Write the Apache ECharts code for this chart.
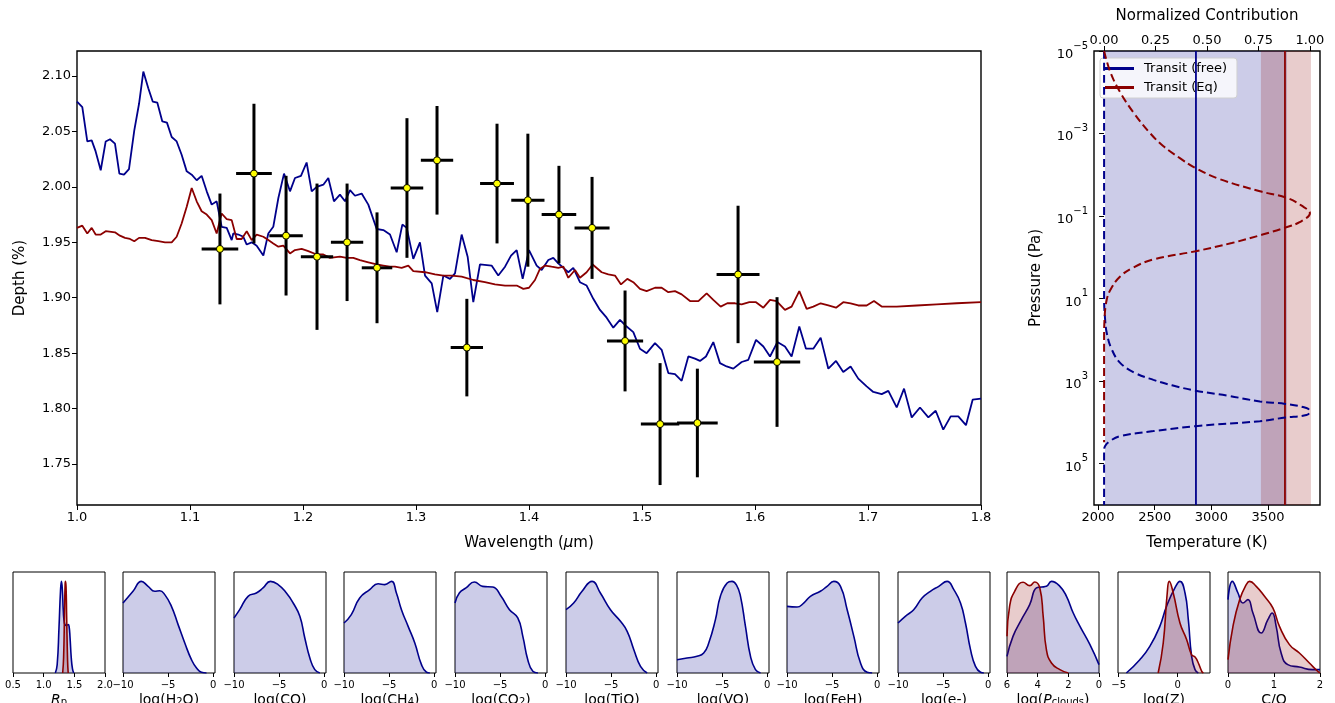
<!DOCTYPE html>
<html><head><meta charset="utf-8">
<script src="https://cdn.jsdelivr.net/npm/echarts@6/dist/echarts.min.js"></script>
<style>html,body{margin:0;padding:0;background:#fff}#c{width:1335px;height:703px}</style>
</head><body><div id="c"></div>
<script>
// ---------------- DATA ----------------
// Model transmission spectra [wavelength (um), depth (%)]
const specFree = [[1.000,2.077],[1.0047,2.072],[1.0091,2.041],[1.013,2.042],[1.0165,2.032],[1.021,2.015],[1.0254,2.041],[1.0292,2.043],[1.0336,2.039],[1.0375,2.012],[1.0416,2.011],[1.046,2.016],[1.0507,2.051],[1.0549,2.075],[1.0587,2.104],[1.0631,2.089],[1.067,2.077],[1.0711,2.076],[1.0755,2.059],[1.0796,2.058],[1.0838,2.045],[1.0882,2.041],[1.0926,2.029],[1.0971,2.014],[1.1015,2.011],[1.1059,2.006],[1.1103,2.010],[1.1148,1.996],[1.1192,1.984],[1.1236,1.987],[1.128,1.964],[1.1325,1.963],[1.1369,1.952],[1.1383,1.958],[1.1428,1.957],[1.1472,1.955],[1.1502,1.948],[1.1546,1.950],[1.159,1.947],[1.1649,1.938],[1.1693,1.958],[1.1737,1.964],[1.1782,1.990],[1.1832,2.012],[1.1885,1.996],[1.1929,2.008],[1.1982,2.010],[1.2032,2.022],[1.2077,1.996],[1.2121,2.000],[1.218,2.002],[1.2224,2.008],[1.2274,1.987],[1.2327,1.993],[1.2372,1.987],[1.2416,1.997],[1.246,1.992],[1.2519,1.994],[1.2578,1.984],[1.2652,1.962],[1.2711,1.961],[1.277,1.957],[1.2829,1.941],[1.2879,1.966],[1.2918,1.963],[1.2976,1.935],[1.3035,1.950],[1.308,1.920],[1.3139,1.913],[1.3188,1.887],[1.3242,1.920],[1.3301,1.917],[1.3345,1.922],[1.3404,1.957],[1.3457,1.937],[1.3507,1.896],[1.3566,1.930],[1.3669,1.929],[1.3728,1.920],[1.3788,1.928],[1.3841,1.938],[1.3891,1.943],[1.3944,1.917],[1.400,1.943],[1.4068,1.929],[1.4112,1.925],[1.4171,1.934],[1.4215,1.936],[1.4259,1.931],[1.4304,1.927],[1.4348,1.923],[1.4392,1.927],[1.4451,1.914],[1.451,1.911],[1.4569,1.899],[1.4628,1.889],[1.4687,1.882],[1.4746,1.873],[1.4805,1.880],[1.4864,1.874],[1.4923,1.869],[1.4982,1.854],[1.5041,1.850],[1.5115,1.859],[1.5174,1.853],[1.5233,1.832],[1.5292,1.831],[1.5351,1.825],[1.541,1.847],[1.5469,1.845],[1.5513,1.843],[1.5566,1.847],[1.5631,1.860],[1.569,1.841],[1.5749,1.838],[1.5808,1.836],[1.5882,1.842],[1.5941,1.844],[1.6009,1.862],[1.6074,1.856],[1.6133,1.847],[1.6198,1.860],[1.6265,1.856],[1.6324,1.847],[1.6392,1.874],[1.6451,1.854],[1.6516,1.854],[1.6581,1.864],[1.6649,1.836],[1.6717,1.843],[1.6781,1.833],[1.6846,1.838],[1.6914,1.827],[1.6988,1.820],[1.7047,1.815],[1.7121,1.813],[1.718,1.816],[1.7254,1.801],[1.7319,1.818],[1.7387,1.792],[1.746,1.801],[1.7534,1.792],[1.7599,1.798],[1.7666,1.781],[1.7732,1.793],[1.7799,1.793],[1.7867,1.785],[1.7926,1.808],[1.800,1.809]];
const specEq = [[1.000,1.963],[1.0047,1.965],[1.0091,1.958],[1.013,1.963],[1.0165,1.957],[1.021,1.957],[1.0254,1.960],[1.0336,1.959],[1.038,1.956],[1.0425,1.954],[1.0469,1.953],[1.0507,1.951],[1.0549,1.954],[1.0602,1.954],[1.0661,1.952],[1.072,1.951],[1.0779,1.950],[1.0838,1.950],[1.0882,1.955],[1.0926,1.967],[1.0971,1.982],[1.1015,1.999],[1.1059,1.987],[1.1103,1.978],[1.1148,1.975],[1.1192,1.970],[1.1236,1.958],[1.128,1.976],[1.1325,1.971],[1.1369,1.970],[1.1413,1.953],[1.1457,1.953],[1.1502,1.960],[1.1546,1.952],[1.159,1.957],[1.1649,1.955],[1.1693,1.952],[1.1737,1.949],[1.1782,1.946],[1.1826,1.947],[1.1885,1.940],[1.1929,1.943],[1.1988,1.944],[1.2047,1.942],[1.2121,1.939],[1.218,1.939],[1.2239,1.936],[1.2327,1.937],[1.2386,1.936],[1.2445,1.936],[1.2504,1.934],[1.2578,1.932],[1.2652,1.930],[1.2711,1.929],[1.277,1.928],[1.2814,1.928],[1.2873,1.927],[1.2932,1.929],[1.2976,1.924],[1.308,1.923],[1.3168,1.921],[1.3242,1.920],[1.3315,1.920],[1.3404,1.919],[1.3507,1.916],[1.361,1.914],[1.3699,1.912],[1.3788,1.911],[1.3891,1.911],[1.395,1.908],[1.400,1.909],[1.4053,1.916],[1.4097,1.926],[1.4142,1.929],[1.420,1.928],[1.4259,1.927],[1.4304,1.928],[1.4348,1.918],[1.4407,1.925],[1.4451,1.918],[1.451,1.923],[1.4563,1.930],[1.4643,1.923],[1.4702,1.921],[1.4761,1.920],[1.4814,1.912],[1.487,1.917],[1.4923,1.914],[1.4982,1.908],[1.5041,1.906],[1.5115,1.909],[1.5174,1.909],[1.5233,1.905],[1.5292,1.906],[1.5351,1.903],[1.5425,1.897],[1.5499,1.897],[1.5572,1.904],[1.5631,1.898],[1.5696,1.892],[1.5755,1.895],[1.5823,1.895],[1.5882,1.894],[1.595,1.896],[1.6009,1.896],[1.6074,1.891],[1.6133,1.898],[1.6191,1.897],[1.6265,1.889],[1.6324,1.892],[1.6392,1.906],[1.6457,1.890],[1.6516,1.892],[1.6581,1.895],[1.6649,1.893],[1.6717,1.891],[1.6781,1.896],[1.6846,1.895],[1.6914,1.893],[1.6988,1.893],[1.7053,1.897],[1.7121,1.892],[1.7254,1.892],[1.7431,1.893],[1.7608,1.894],[1.7785,1.895],[1.800,1.896]];

// Observed data
const obsWl      = [1.1265,1.1566,1.185,1.2124,1.239,1.2655,1.292,1.3186,1.345,1.3717,1.399,1.4265,1.4558,1.485,1.516,1.549,1.585,1.6195];
const obsWlErr   = [0.0162,0.0158,0.0148,0.0143,0.0143,0.0135,0.0144,0.0143,0.0143,0.015,0.0147,0.0153,0.0155,0.016,0.017,0.018,0.019,0.0205];
const obsDepth   = [1.944,2.012,1.956,1.937,1.950,1.927,1.999,2.024,1.855,2.003,1.988,1.975,1.963,1.861,1.786,1.787,1.921,1.842];
const obsDepthErr= [0.050,0.063,0.054,0.066,0.053,0.050,0.063,0.049,0.044,0.054,0.060,0.044,0.046,0.0455,0.055,0.049,0.062,0.0585];

// Tick labels
const depthTicks = [1.75,1.80,1.85,1.90,1.95,2.00,2.05,2.10];
const tempTicks = [2000,2500,3000,3500];
const contribTicks = [0,0.25,0.5,0.75,1.0];
const pressureTicks = [1e-5,1e-3,1e-1,1e1,1e3,1e5];

// Temperature retrieval (K): median and 1-sigma band
const tempFreeMedian = 2864, tempFreeBand = [2062, 3667];
const tempEqMedian = 3649,  tempEqBand = [3437, 3878];

// Normalized contribution functions: pressure (Pa) and contribution
const contribEqP = [1e-5,3.2e-5,1e-4,3.2e-4,1e-3,2e-3,4e-3,6.9e-3,1.26e-2,2.5e-2,3.6e-2,5.6e-2,8.5e-2,1.4e-1,1.9e-1,2.8e-1,4.5e-1,7.1e-1,1.12,1.78,2.9,5.6,10.5,32,100,3e4];
const contribEqC = [0,0.03,0.078,0.145,0.225,0.287,0.37,0.445,0.56,0.757,0.886,0.96,1.0,0.95,0.88,0.77,0.62,0.445,0.24,0.14,0.078,0.035,0.013,0.002,0,0];
const contribFreeP = [1e-5,10,32,68,160,360,630,930,1260,1700,2240,3100,3550,4470,5400,6600,7600,9300,12300,16200,21400,28200,37200,50000,1e6];
const contribFreeC = [0,0,0.005,0.013,0.035,0.078,0.15,0.24,0.33,0.445,0.6,0.757,0.88,0.983,1.0,0.983,0.88,0.757,0.445,0.24,0.078,0.029,0.005,0,0];

// Posterior KDEs [x, relative density]
const kde_Rp_free = [[1.19,0],[1.22,0.08],[1.25,0.45],[1.275,0.82],[1.29,0.907],[1.305,0.82],[1.32,0.62],[1.34,0.49],[1.37,0.47],[1.40,0.48],[1.415,0.46],[1.43,0.35],[1.45,0.15],[1.47,0.04],[1.49,0]];
const kde_Rp_eq = [[1.31,0],[1.325,0.15],[1.34,0.6],[1.35,0.88],[1.356,0.907],[1.365,0.85],[1.375,0.55],[1.39,0.12],[1.40,0]];
const kde_H2O = [[-10,0.693],[-8.89,0.809],[-7.96,0.907],[-7.22,0.858],[-6.48,0.809],[-5.93,0.815],[-5.37,0.776],[-4.63,0.66],[-3.89,0.479],[-3.15,0.297],[-2.41,0.132],[-1.85,0.05],[-1.3,0.007],[-0.74,0]];
const kde_CO = [[-10,0.545],[-9.37,0.627],[-8.44,0.759],[-7.52,0.792],[-6.78,0.842],[-5.96,0.907],[-5.11,0.875],[-4.19,0.792],[-3.44,0.693],[-2.7,0.561],[-2.15,0.347],[-1.59,0.149],[-1.04,0.033],[-0.48,0]];
const kde_CH4 = [[-10,0.495],[-9.19,0.578],[-8.26,0.743],[-7.15,0.825],[-6.22,0.884],[-5.48,0.875],[-4.74,0.907],[-4.19,0.792],[-3.63,0.627],[-2.89,0.462],[-2.15,0.297],[-1.41,0.083],[-0.85,0.007],[-0.48,0]];
const kde_CO2 = [[-10,0.693],[-9.52,0.792],[-8.78,0.842],[-7.85,0.901],[-6.93,0.858],[-5.81,0.851],[-4.89,0.759],[-3.96,0.627],[-3.04,0.545],[-2.48,0.363],[-1.93,0.132],[-1.37,0.017],[-0.8,0]];
const kde_TiO = [[-10,0.627],[-9.15,0.693],[-8.22,0.809],[-7.11,0.907],[-6.19,0.792],[-5.07,0.627],[-3.96,0.512],[-3.22,0.413],[-2.48,0.231],[-1.74,0.066],[-1.0,0]];
const kde_VO = [[-10,0.132],[-8.89,0.149],[-7.78,0.165],[-7.04,0.198],[-6.48,0.297],[-5.74,0.528],[-5.19,0.759],[-4.44,0.891],[-3.9,0.907],[-3.4,0.87],[-2.96,0.759],[-2.41,0.462],[-1.85,0.165],[-1.3,0.033],[-0.74,0]];
const kde_FeH = [[-10,0.66],[-8.89,0.653],[-8.15,0.693],[-7.41,0.759],[-6.3,0.809],[-5.56,0.858],[-4.81,0.907],[-4.07,0.858],[-3.33,0.627],[-2.59,0.363],[-1.85,0.099],[-1.11,0.007],[-0.56,0]];
const kde_e = [[-10,0.495],[-9.19,0.561],[-8.26,0.627],[-7.33,0.743],[-6.41,0.809],[-5.48,0.858],[-4.56,0.907],[-3.81,0.825],[-3.07,0.693],[-2.52,0.495],[-1.96,0.231],[-1.41,0.066],[-0.85,0.007],[-0.48,0]];
const kde_Pc_free = [[6,0.165],[5.61,0.363],[5.06,0.528],[4.52,0.677],[4.08,0.842],[3.75,0.851],[3.43,0.858],[3.1,0.907],[2.55,0.858],[2.12,0.759],[1.68,0.594],[1.24,0.462],[0.59,0.281],[0,0.083]];
const kde_Pc_eq = [[6,0.363],[5.83,0.66],[5.5,0.809],[4.95,0.898],[4.52,0.865],[4.19,0.901],[3.86,0.842],[3.64,0.561],[3.43,0.231],[3.1,0.099],[2.55,0.033],[2.0,0]];
const kde_Z_free = [[-4.35,0],[-3.21,0.132],[-2.36,0.264],[-1.51,0.462],[-0.94,0.66],[-0.23,0.842],[0.2,0.907],[0.63,0.792],[0.91,0.528],[1.19,0.165],[1.48,0.033],[1.76,0]];
const kde_Z_eq = [[-1.65,0],[-1.22,0.297],[-0.88,0.792],[-0.71,0.907],[-0.37,0.792],[0.2,0.495],[0.77,0.33],[1.19,0.18],[1.48,0.158],[1.76,0.099],[2.05,0.017],[2.19,0]];
const kde_CtoO_free = [[0,0.726],[0.094,0.907],[0.217,0.792],[0.325,0.693],[0.433,0.726],[0.542,0.594],[0.722,0.396],[0.866,0.528],[0.96,0.594],[1.047,0.462],[1.155,0.198],[1.3,0.083],[1.55,0.059],[1.84,0.033],[2.0,0.033]];
const kde_CtoO_eq = [[0,0.132],[0.108,0.462],[0.253,0.726],[0.397,0.875],[0.469,0.907],[0.614,0.858],[0.794,0.759],[0.975,0.644],[1.119,0.462],[1.336,0.281],[1.552,0.198],[1.769,0.099],[1.95,0.017],[2.0,0]];

// ---------------- CHART ----------------
const FONT = 'DejaVu Sans';
const BLUE = '#00008b', RED = '#8b0000';
const BLUE_FILL = 'rgba(0,0,139,0.2)', RED_FILL = 'rgba(139,0,0,0.2)';
const minus = s => String(s).replace('-', '\u2212');

const panels = [
  {title:'{i|R}{s|p}', min:0.5, max:2.0, ticks:[0.5,1.0,1.5,2.0], dec:1, free:kde_Rp_free, eq:kde_Rp_eq},
  {title:'log(H{s|2}O)', min:-10, max:0.2, ticks:[-10,-5,0], free:kde_H2O},
  {title:'log(CO)', min:-10, max:0.2, ticks:[-10,-5,0], free:kde_CO},
  {title:'log(CH{s|4})', min:-10, max:0.2, ticks:[-10,-5,0], free:kde_CH4},
  {title:'log(CO{s|2})', min:-10, max:0.2, ticks:[-10,-5,0], free:kde_CO2},
  {title:'log(TiO)', min:-10, max:0.2, ticks:[-10,-5,0], free:kde_TiO},
  {title:'log(VO)', min:-10, max:0.2, ticks:[-10,-5,0], free:kde_VO},
  {title:'log(FeH)', min:-10, max:0.2, ticks:[-10,-5,0], free:kde_FeH},
  {title:'log(e-)', min:-10, max:0.2, ticks:[-10,-5,0], free:kde_e},
  {title:'log({i|P}{s|clouds})', min:0, max:6, inverse:true, ticks:[0,2,4,6], free:kde_Pc_free, eq:kde_Pc_eq},
  {title:'log(Z)', min:-5.06, max:2.75, ticks:[-5,0], free:kde_Z_free, eq:kde_Z_eq},
  {title:'C/O', min:0, max:2, ticks:[0,1,2], free:kde_CtoO_free, eq:kde_CtoO_eq}
];
const panelLefts = [13,123,234,344,455,566,677,787,898,1007,1118,1228];

const grids = [
  {left:77, top:51, width:904, height:454, show:true, borderColor:'#000', borderWidth:1.4, backgroundColor:'transparent', outerBoundsMode:'none', containLabel:false},
  {left:1094, top:51, width:226, height:454, show:true, borderColor:'#000', borderWidth:1.4, backgroundColor:'transparent', outerBoundsMode:'none', containLabel:false}
];
const xAxes = [
  {gridIndex:0, type:'value', min:1.0, max:1.8, interval:0.1, splitLine:{show:false},
   axisLine:{show:false}, axisTick:{length:5, lineStyle:{color:'#000'}},
   axisLabel:{fontFamily:FONT, fontSize:13, color:'#000', margin:6, formatter:v=>v.toFixed(1)},
   name:'Wavelength ({i|\u03bc}m)', nameLocation:'middle', nameGap:31,
   nameTextStyle:{fontFamily:FONT, fontSize:15, color:'#000', rich:{i:{fontFamily:FONT, fontSize:15, fontStyle:'italic', color:'#000'}}}},
  {gridIndex:1, type:'value', min:1965, max:3958, position:'bottom', splitLine:{show:false},
   axisLine:{show:false}, axisTick:{length:5, lineStyle:{color:'#000'}, customValues:tempTicks},
   axisLabel:{fontFamily:FONT, fontSize:13, color:'#000', margin:6, customValues:tempTicks, formatter:v=>String(Math.round(v))},
   name:'Temperature (K)', nameLocation:'middle', nameGap:31,
   nameTextStyle:{fontFamily:FONT, fontSize:15, color:'#000'}},
  {gridIndex:1, type:'value', min:-0.049, max:1.049, position:'top', splitLine:{show:false},
   axisLine:{show:false}, axisTick:{length:5, lineStyle:{color:'#000'}, customValues:contribTicks},
   axisLabel:{fontFamily:FONT, fontSize:13, color:'#000', margin:4, customValues:contribTicks, formatter:v=>v.toFixed(2)},
   name:'Normalized Contribution', nameLocation:'middle', nameGap:27,
   nameTextStyle:{fontFamily:FONT, fontSize:15, color:'#000'}}
];
const yAxes = [
  {gridIndex:0, type:'value', min:1.713, max:2.1226, splitLine:{show:false},
   axisLine:{show:false}, axisTick:{length:5, lineStyle:{color:'#000'}, customValues:depthTicks},
   axisLabel:{fontFamily:FONT, fontSize:13, color:'#000', margin:6, customValues:depthTicks, formatter:v=>v.toFixed(2)},
   name:'Depth (%)', nameLocation:'middle', nameGap:49, nameRotate:90,
   nameTextStyle:{fontFamily:FONT, fontSize:15, color:'#000'}},
  {gridIndex:1, type:'log', min:1e-5, max:1e6, inverse:true, splitLine:{show:false},
   axisLine:{show:false}, axisTick:{length:5, lineStyle:{color:'#000'}, customValues:pressureTicks}, minorTick:{show:false},
   axisLabel:{margin:6, customValues:pressureTicks,
     formatter:v=>{const e=Math.round(Math.log10(v)); return '{b|10}{e|'+minus(e)+'}';},
     rich:{b:{fontFamily:FONT, fontSize:13, color:'#000', verticalAlign:'bottom', lineHeight:20},
           e:{fontFamily:FONT, fontSize:10, color:'#000', verticalAlign:'top', lineHeight:12}}},
   name:'Pressure (Pa)', nameLocation:'middle', nameGap:50, nameRotate:90,
   nameTextStyle:{fontFamily:FONT, fontSize:15, color:'#000'}}
];

const series = [
  {type:'line', name:'specFree', xAxisIndex:0, yAxisIndex:0, data:specFree, showSymbol:false, symbol:'none',
   lineStyle:{color:BLUE, width:1.8}, itemStyle:{color:BLUE}, z:2},
  {type:'line', name:'specEq', xAxisIndex:0, yAxisIndex:0, data:specEq, showSymbol:false, symbol:'none',
   lineStyle:{color:RED, width:1.8}, itemStyle:{color:RED}, z:3},
  {type:'custom', name:'errbars', xAxisIndex:0, yAxisIndex:0, z:5,
   data: obsWl.map((w,i)=>[w, obsDepth[i], obsWlErr[i], obsDepthErr[i]]),
   encode:{x:0, y:1},
   renderItem:(params, api)=>{
     const x=api.value(0), y=api.value(1), xe=api.value(2), ye=api.value(3);
     const l=api.coord([x-xe,y]), r=api.coord([x+xe,y]), t=api.coord([x,y+ye]), b=api.coord([x,y-ye]);
     const st={stroke:'#000', lineWidth:3};
     return {type:'group', children:[
       {type:'line', shape:{x1:l[0],y1:l[1],x2:r[0],y2:r[1]}, style:st},
       {type:'line', shape:{x1:t[0],y1:t[1],x2:b[0],y2:b[1]}, style:st}
     ]};
   }},
  {type:'scatter', name:'obs', xAxisIndex:0, yAxisIndex:0, z:6, symbolSize:7,
   data: obsWl.map((w,i)=>[w, obsDepth[i]]),
   itemStyle:{color:'#ffff00', borderColor:'#000', borderWidth:1, opacity:1}},
  // Right panel
  {type:'line', name:'Transit (free)', xAxisIndex:1, yAxisIndex:1, data:[[tempFreeMedian,1e-5],[tempFreeMedian,1e6]],
   symbol:'none', lineStyle:{color:BLUE, width:1.8}, itemStyle:{color:BLUE}, z:4,
   markArea:{silent:true, itemStyle:{color:BLUE_FILL}, data:[[{xAxis:tempFreeBand[0]},{xAxis:tempFreeBand[1]}]]}},
  {type:'line', name:'Transit (Eq)', xAxisIndex:1, yAxisIndex:1, data:[[tempEqMedian,1e-5],[tempEqMedian,1e6]],
   symbol:'none', lineStyle:{color:RED, width:1.8}, itemStyle:{color:RED}, z:4,
   markArea:{silent:true, itemStyle:{color:RED_FILL}, data:[[{xAxis:tempEqBand[0]},{xAxis:tempEqBand[1]}]]}},
  {type:'line', name:'contribFree', xAxisIndex:2, yAxisIndex:1, data:contribFreeP.map((p,i)=>[contribFreeC[i],p]),
   symbol:'none', smooth:0.4, lineStyle:{color:BLUE, width:2, type:[8,4]}, z:5},
  {type:'line', name:'contribEq', xAxisIndex:2, yAxisIndex:1, data:contribEqP.map((p,i)=>[contribEqC[i],p]),
   symbol:'none', smooth:0.4, lineStyle:{color:RED, width:2, type:[8,4]}, z:6}
];

panels.forEach((p, k)=>{
  const gi = grids.length;
  grids.push({left:panelLefts[k], top:572, width:92, height:101, show:true, borderColor:'#000', borderWidth:1, backgroundColor:'transparent', outerBoundsMode:'none', containLabel:false});
  const xi = xAxes.length, yi = yAxes.length;
  xAxes.push({gridIndex:gi, type:'value', min:p.min, max:p.max, inverse:!!p.inverse, splitLine:{show:false},
    axisLine:{show:false}, axisTick:{length:4, lineStyle:{color:'#000'}, customValues:p.ticks},
    axisLabel:{fontFamily:FONT, fontSize:10, color:'#000', margin:7, customValues:p.ticks, showMinLabel:true, showMaxLabel:true,
      formatter:v=> p.dec ? v.toFixed(p.dec) : minus(v)},
    name:p.title, nameLocation:'middle', nameGap:20,
    nameTextStyle:{fontFamily:FONT, fontSize:14, color:'#000',
      rich:{i:{fontFamily:FONT, fontSize:14, fontStyle:'italic', color:'#000'}, s:{fontFamily:FONT, fontSize:10, color:'#000', verticalAlign:'bottom'}}}});
  yAxes.push({gridIndex:gi, type:'value', min:0, max:1, show:false, splitLine:{show:false}});
  series.push({type:'line', name:'kdeFree'+k, xAxisIndex:xi, yAxisIndex:yi, data:p.free, symbol:'none', smooth:0.5,
    lineStyle:{color:BLUE, width:1.6}, areaStyle:{color:BLUE_FILL, opacity:1}, z:2});
  if (p.eq) series.push({type:'line', name:'kdeEq'+k, xAxisIndex:xi, yAxisIndex:yi, data:p.eq, symbol:'none', smooth:0.5,
    lineStyle:{color:RED, width:1.6}, areaStyle:{color:RED_FILL, opacity:1}, z:3});
});

const chart = echarts.init(document.getElementById('c'), null, {renderer:'canvas'});
chart.setOption({
  animation:false,
  backgroundColor:'#fff',
  textStyle:{fontFamily:FONT},
  grid:grids, xAxis:xAxes, yAxis:yAxes, series:series,
  legend:{show:true, data:['Transit (free)','Transit (Eq)'], orient:'vertical', left:1100, top:58,
    icon:'rect', itemWidth:29, itemHeight:3, itemGap:6,
    textStyle:{fontFamily:FONT, fontSize:13, color:'#000', padding:[0,0,0,5]},
    backgroundColor:'rgba(255,255,255,0.8)', borderColor:'#d0d0d0', borderWidth:1, borderRadius:3,
    padding:[4,10,4,5]}
});
</script></body></html>
